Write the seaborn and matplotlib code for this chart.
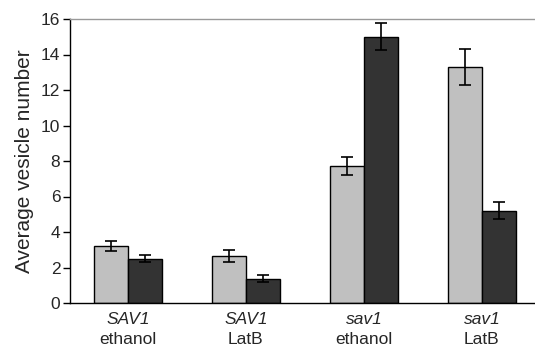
import matplotlib
matplotlib.use("Agg")
import matplotlib.pyplot as plt
import matplotlib.transforms as mtransforms
import seaborn as sns
import pandas as pd
import numpy as np

genotypes = ["SAV1", "SAV1", "sav1", "sav1"]
treatments = ["ethanol", "LatB", "ethanol", "LatB"]
series = ["light", "dark"]
light_vals = [3.22, 2.66, 7.72, 13.3]
light_err = [0.27, 0.33, 0.5, 1.0]
dark_vals = [2.5, 1.36, 15.0, 5.2]
dark_err = [0.21, 0.19, 0.77, 0.48]
yticks = [0, 2, 4, 6, 8, 10, 12, 14, 16]

sns.set_style("white")
plt.rcParams['font.family'] = ['Liberation Sans', 'DejaVu Sans']

cats = [f"{g}\n{t}" for g, t in zip(genotypes, treatments)]
df = pd.DataFrame({
    "cat": cats * 2,
    "series": [series[0]] * 4 + [series[1]] * 4,
    "value": light_vals + dark_vals,
    "err": light_err + dark_err,
})

fig = plt.figure(figsize=(5.35, 3.48), dpi=100)
ax = fig.add_axes([70 / 535, 45 / 348, 465 / 535, 284 / 348])

sns.barplot(data=df, x="cat", y="value", hue="series", order=cats,
            hue_order=series, palette=["#c0c0c0", "#333333"], width=0.58,
            edgecolor="black", linewidth=1.0, errorbar=None, legend=False, ax=ax)

# error bars at bar centers
bars = [p for p in ax.patches if p.get_height() > 0]
bars_sorted = sorted(bars, key=lambda p: p.get_x())
xs = np.array([p.get_x() + p.get_width() / 2 for p in bars_sorted])
hs = np.array([p.get_height() for p in bars_sorted])
errs_map = {}
for v, e in zip(light_vals + dark_vals, light_err + dark_err):
    errs_map[round(v, 4)] = e
es = np.array([errs_map[round(h, 4)] for h in hs])
ax.errorbar(xs, hs, yerr=es, fmt="none", ecolor="black", elinewidth=1.2,
            capsize=4, capthick=1.2)

ax.set_ylim(0, 16)
ax.set_xlim(-0.49, 3.45)
ax.set_yticks(yticks)
ax.set_yticklabels([str(t) for t in yticks], fontsize=12.5)
ax.set_xticks(range(4))
ax.set_xticklabels([""] * 4)
ax.tick_params(axis="y", direction="out", length=5, width=1, color="black",
               left=True, pad=2)
ax.tick_params(axis="x", length=0)
ax.set_xlabel("")
ax.set_ylabel("Average vesicle number", fontsize=15, labelpad=5)

for s in ["left", "bottom"]:
    ax.spines[s].set_color("black")
    ax.spines[s].set_linewidth(1.0)
ax.spines["top"].set_color("#999999")
ax.spines["top"].set_linewidth(1.0)
ax.spines["right"].set_visible(False)

trans = mtransforms.blended_transform_factory(ax.transData, fig.transFigure)
for i, (g, t) in enumerate(zip(genotypes, treatments)):
    ax.text(i, 1 - 320 / 348, g, transform=trans, ha="center", va="center",
            fontsize=12.5, style="italic")
    ax.text(i, 1 - 339 / 348, t, transform=trans, ha="center", va="center",
            fontsize=12.5)

fig.savefig("out.png", dpi=100)
